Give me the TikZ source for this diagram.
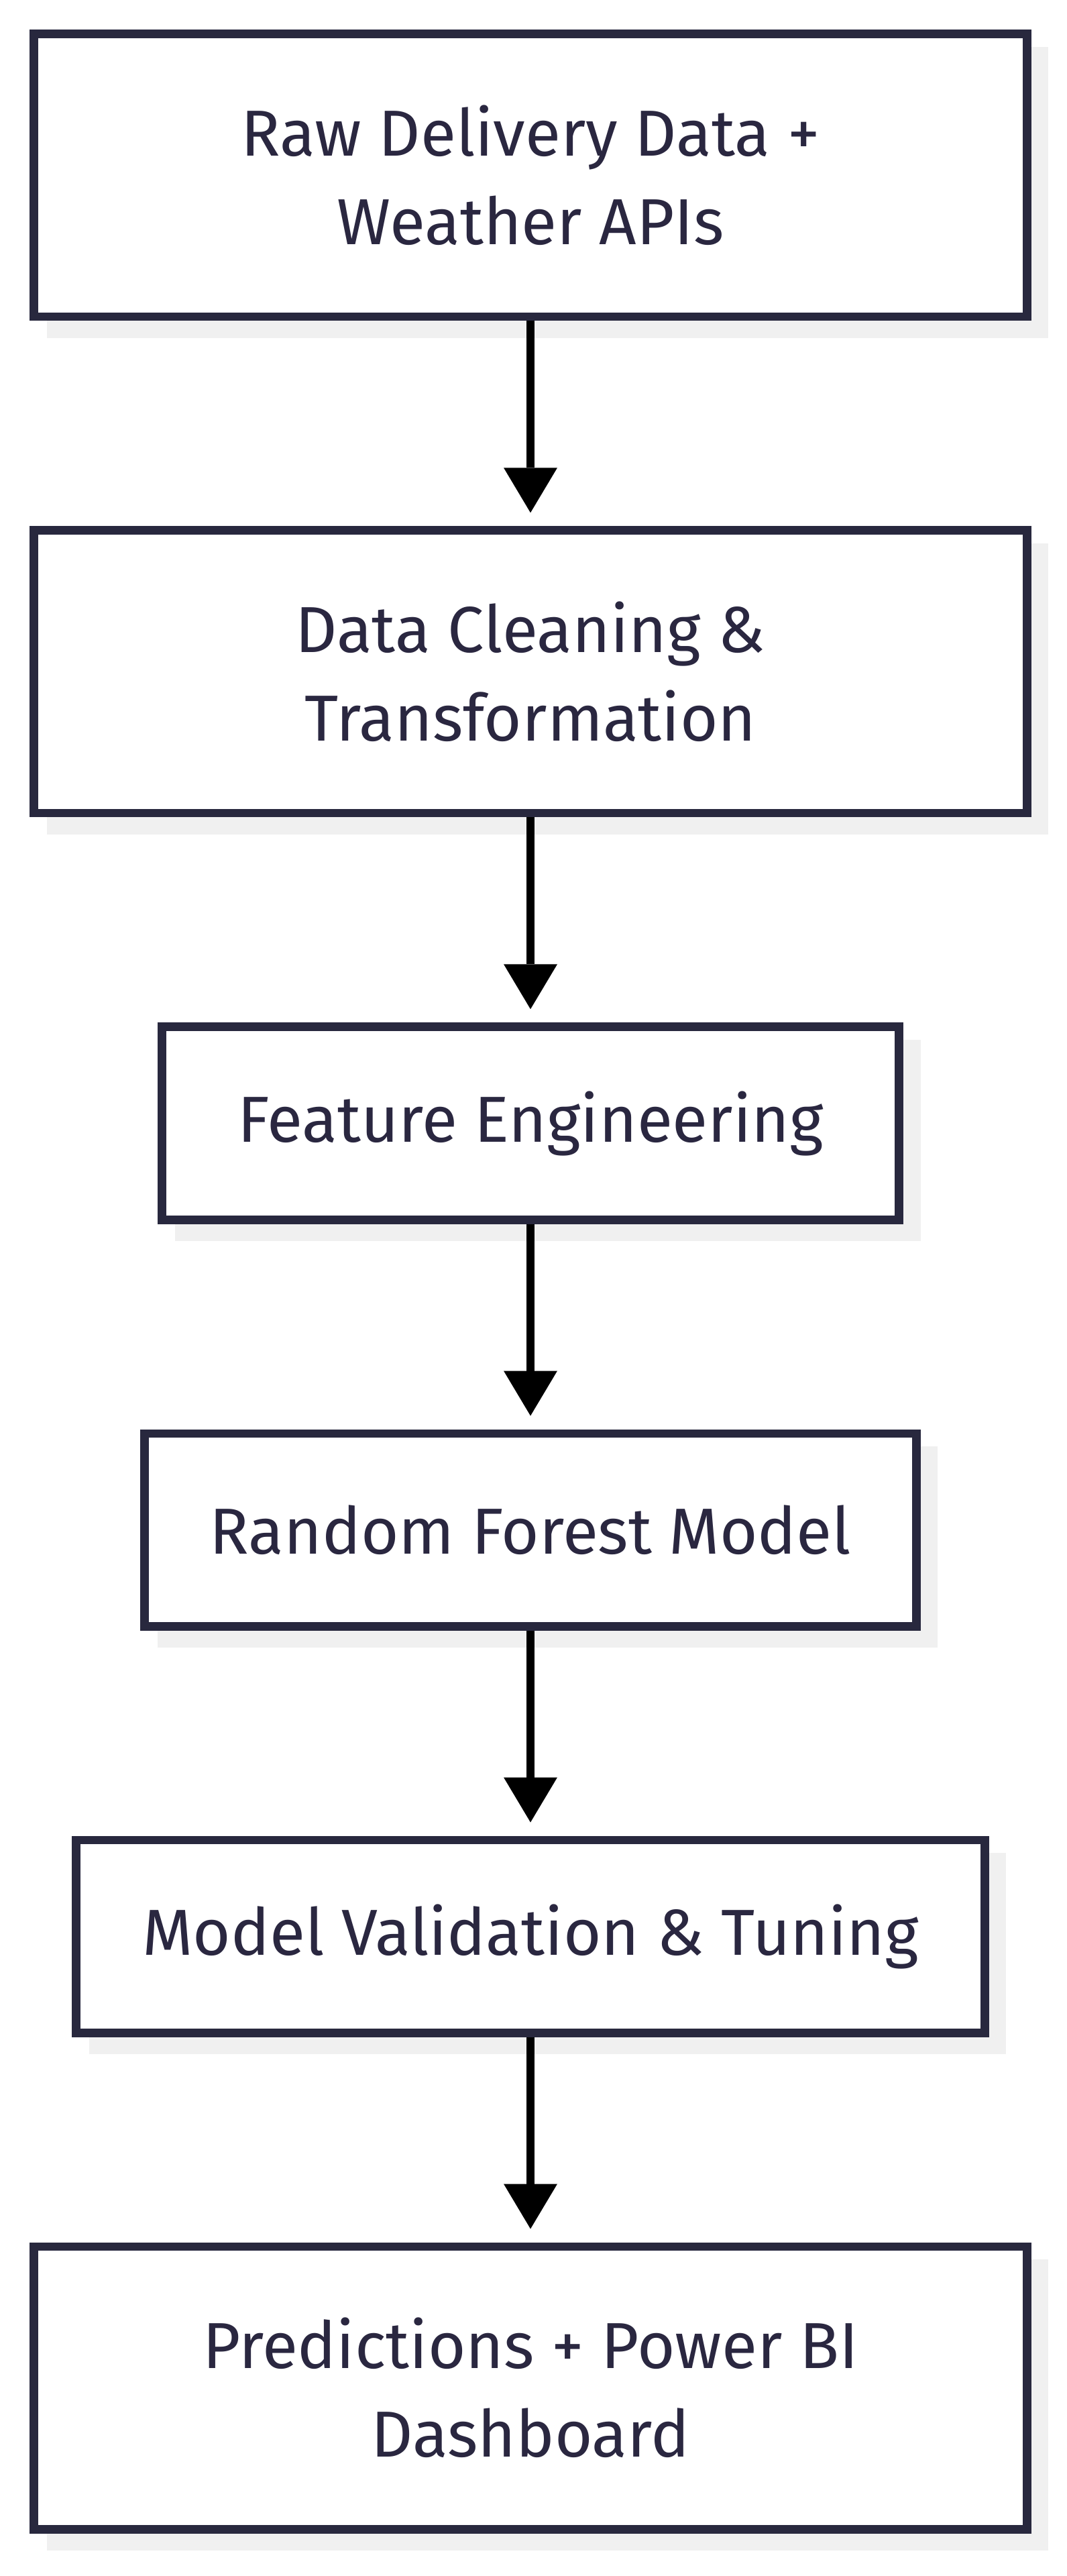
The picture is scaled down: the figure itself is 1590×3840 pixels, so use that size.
\documentclass[tikz,border=0pt]{standalone}
\usepackage{fontspec}
\setmainfont{Fira Sans}
\usetikzlibrary{arrows.meta}
\definecolor{boxline}{RGB}{40,40,62}
\definecolor{boxtext}{RGB}{42,39,64}
\definecolor{shadowgray}{RGB}{240,240,240}
\tikzset{
  flowbox/.style={draw=boxline, line width=12.7pt, fill=white, text=boxtext,
    align=center, inner sep=0pt, outer sep=0pt,
    font=\fontsize{97}{132}\selectfont},
  tallbox/.style={flowbox, minimum width=1480.7pt, minimum height=421.3pt},
  shortbox/.style={flowbox, minimum height=287.7pt},
  flowarrow/.style={line width=12pt, black,
    -{Triangle[width=80pt,length=67pt,line width=0pt]},
    shorten <=6.35pt, shorten >=26.35pt},
  shadowfill/.style={fill=shadowgray, draw=none}
}
\begin{document}
\begin{tikzpicture}[x=1pt,y=-1pt]
\useasboundingbox[fill=white] (0,0) rectangle (1590,3840);
% shadows
\fill[shadowfill] (44.3+25.5,44.3+25.5) rectangle (1537.7+25.5,478.3+25.5);
\fill[shadowfill] (44.3+25.5,784.3+25.5) rectangle (1537.7+25.5,1218.3+25.5);
\fill[shadowfill] (235+25.5,1524.3+25.5) rectangle (1347+25.5,1824.7+25.5);
\fill[shadowfill] (209.3+25.5,2130.5+25.5) rectangle (1372.7+25.5,2430.9+25.5);
\fill[shadowfill] (107.3+25.5,2736.5+25.5) rectangle (1474.7+25.5,3036.9+25.5);
\fill[shadowfill] (44.3+25.5,3342.5+25.5) rectangle (1537.7+25.5,3776.5+25.5);
% boxes
\node[tallbox] (raw) at (791,261.3) {Raw Delivery Data +\\Weather APIs};
\node[tallbox] (clean) at (791,1001.3) {Data Cleaning \&\\Transformation};
\node[shortbox, minimum width=1099.3pt] (feat) at (791,1674.5) {Feature Engineering};
\node[shortbox, minimum width=1150.7pt] (rf) at (791,2280.7) {Random Forest Model};
\node[shortbox, minimum width=1354.7pt] (valid) at (791,2886.7) {Model Validation \& Tuning};
\node[tallbox] (pred) at (791,3559.5) {Predictions + Power BI\\Dashboard};
% arrows
\draw[flowarrow] (raw.south) -- (clean.north);
\draw[flowarrow] (clean.south) -- (feat.north);
\draw[flowarrow] (feat.south) -- (rf.north);
\draw[flowarrow] (rf.south) -- (valid.north);
\draw[flowarrow] (valid.south) -- (pred.north);
\end{tikzpicture}
\end{document}
